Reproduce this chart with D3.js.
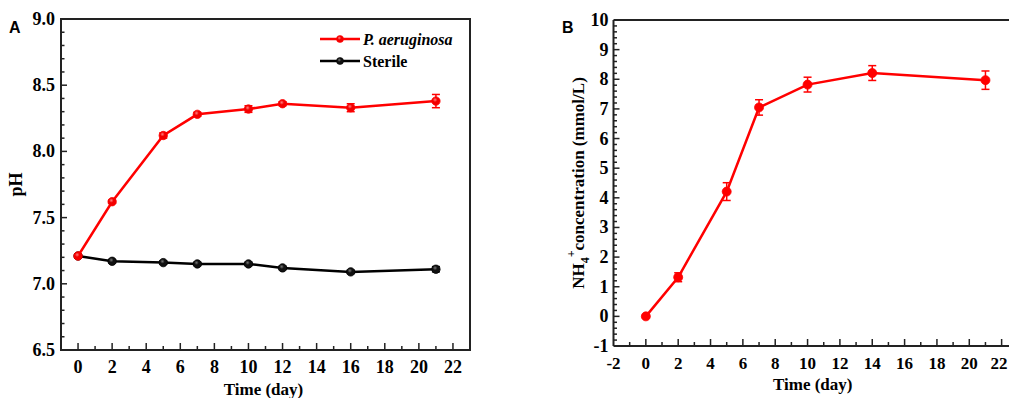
<!DOCTYPE html>
<html>
<head>
<meta charset="utf-8">
<script src="https://cdn.jsdelivr.net/npm/d3@7"></script>
<style>
  html, body { margin: 0; padding: 0; background: #fff; }
  svg { display: block; }
  text { font-family: "Liberation Serif", "Times New Roman", serif; font-weight: bold; }
</style>
</head>
<body>
<svg id="chart" width="1009" height="398"></svg>
<script>
// ---- Panel A: pH over time ----
const daysA = [0, 2, 5, 7, 10, 12, 16, 21];
const phAeruginosa = [7.21, 7.62, 8.12, 8.28, 8.32, 8.36, 8.33, 8.38];
const phAeruginosaErr = [0.012, 0.012, 0.02, 0.015, 0.025, 0.015, 0.03, 0.05];
const phSterile = [7.21, 7.17, 7.16, 7.15, 7.15, 7.12, 7.09, 7.11];
const phSterileErr = [0.015, 0.012, 0.012, 0.012, 0.012, 0.012, 0.012, 0.02];
const seriesNamesA = ["P. aeruginosa", "Sterile"];
const xTicksA = [0, 2, 4, 6, 8, 10, 12, 14, 16, 18, 20, 22];
const yTicksA = [6.5, 7.0, 7.5, 8.0, 8.5, 9.0];

// ---- Panel B: NH4+ concentration over time ----
const daysB = [0, 2, 5, 7, 10, 14, 21];
const nh4 = [0.0, 1.32, 4.21, 7.05, 7.82, 8.21, 7.97];
const nh4Err = [0.05, 0.15, 0.3, 0.26, 0.25, 0.25, 0.31];
const xTicksB = [-2, 0, 2, 4, 6, 8, 10, 12, 14, 16, 18, 20, 22];
const yTicksB = [-1, 0, 1, 2, 3, 4, 5, 6, 7, 8, 9, 10];

const svg = d3.select("#chart");
const RED = "#ff0000";

// sphere-like marker fills
const defs = svg.append("defs");
function sphere(id, base, hi) {
  const g = defs.append("radialGradient").attr("id", id)
    .attr("cx", "40%").attr("cy", "35%").attr("r", "60%");
  g.append("stop").attr("offset", "0%").attr("stop-color", hi);
  g.append("stop").attr("offset", "45%").attr("stop-color", base);
  g.append("stop").attr("offset", "100%").attr("stop-color", base);
}
sphere("ballRed", "#f20000", "#ff8080");
sphere("ballBlack", "#111", "#777");

const fontTick = 18;

function drawSeries(g, x, y, xs, ys, errs, color, fill, r) {
  const line = d3.line().x((d, i) => x(xs[i])).y(d => y(d));
  g.append("path").datum(ys).attr("d", line)
    .attr("fill", "none").attr("stroke", color).attr("stroke-width", 2.5);
  const eb = g.append("g").attr("stroke", color).attr("stroke-width", 1.5);
  ys.forEach((v, i) => {
    const cx = x(xs[i]), y1 = y(v + errs[i]), y2 = y(v - errs[i]);
    eb.append("line").attr("x1", cx).attr("x2", cx).attr("y1", y1).attr("y2", y2);
    eb.append("line").attr("x1", cx - 4).attr("x2", cx + 4).attr("y1", y1).attr("y2", y1);
    eb.append("line").attr("x1", cx - 4).attr("x2", cx + 4).attr("y1", y2).attr("y2", y2);
  });
  g.append("g").selectAll("circle").data(ys).join("circle")
    .attr("cx", (d, i) => x(xs[i])).attr("cy", d => y(d)).attr("r", r)
    .attr("fill", fill).attr("stroke", color).attr("stroke-width", 0.8);
}

// inward ticks (major + minor) along an axis
function ticksIn(g, scale, values, orient, pos, len) {
  values.forEach(v => {
    const p = scale(v);
    if (orient === "bottom") {
      g.append("line").attr("x1", p).attr("x2", p).attr("y1", pos).attr("y2", pos - len);
    } else {
      g.append("line").attr("y1", p).attr("y2", p).attr("x1", pos).attr("x2", pos + len);
    }
  });
}

// ================= Panel A =================
{
  const L = 61, R = 470, T = 19, B = 350;
  const x = d3.scaleLinear().domain([-1, 23]).range([L, R]);
  const y = d3.scaleLinear().domain([6.5, 9.0]).range([B, T]);
  const g = svg.append("g");

  // frame
  g.append("rect").attr("x", L).attr("y", T).attr("width", R - L).attr("height", B - T)
    .attr("fill", "none").attr("stroke", "#222").attr("stroke-width", 2);

  const tk = g.append("g").attr("stroke", "#222").attr("stroke-width", 1.5);
  ticksIn(tk, x, xTicksA, "bottom", B, 7);
  ticksIn(tk, x, d3.range(1, 23, 2), "bottom", B, 4);
  ticksIn(tk, y, yTicksA.slice(1, -1), "left", L, 6);
  ticksIn(tk, y, d3.range(6.6, 9.0, 0.1).filter(v => Math.abs(v * 2 - Math.round(v * 2)) > 0.01), "left", L, 3.5);

  g.append("g").selectAll("text").data(xTicksA).join("text")
    .attr("x", d => x(d)).attr("y", B + 23).attr("text-anchor", "middle")
    .attr("font-size", fontTick).text(d => d);
  g.append("g").selectAll("text").data(yTicksA).join("text")
    .attr("x", L - 6).attr("y", d => y(d) + 6).attr("text-anchor", "end")
    .attr("font-size", fontTick).text(d => d.toFixed(1));

  g.append("text").attr("x", (x(0) + x(22)) / 2 - 2).attr("y", 395).attr("text-anchor", "middle")
    .attr("font-size", 17).text("Time (day)");
  g.append("text").attr("transform", `translate(22,${y(7.75)}) rotate(-90)`)
    .attr("text-anchor", "middle").attr("font-size", 18).text("pH");

  drawSeries(g, x, y, daysA, phSterile, phSterileErr, "#000", "url(#ballBlack)", 4.2);
  drawSeries(g, x, y, daysA, phAeruginosa, phAeruginosaErr, RED, "url(#ballRed)", 4.2);

  // legend
  const lg = g.append("g");
  const entries = [
    { name: seriesNamesA[0], color: RED, fill: "url(#ballRed)", italic: true, yy: 39 },
    { name: seriesNamesA[1], color: "#000", fill: "url(#ballBlack)", italic: false, yy: 61 }
  ];
  entries.forEach(e => {
    lg.append("line").attr("x1", 320).attr("x2", 360).attr("y1", e.yy).attr("y2", e.yy)
      .attr("stroke", e.color).attr("stroke-width", 2.5);
    lg.append("circle").attr("cx", 340).attr("cy", e.yy).attr("r", 3.5)
      .attr("fill", e.fill).attr("stroke", e.color).attr("stroke-width", 0.6);
    lg.append("text").attr("x", 363).attr("y", e.yy + 5.5).attr("font-size", 16)
      .attr("font-style", e.italic ? "italic" : "normal").text(e.name);
  });

  svg.append("text").attr("x", 9).attr("y", 33)
    .style("font-family", "'Liberation Sans', Arial, sans-serif")
    .attr("font-size", 16).text("A");
}

// ================= Panel B =================
{
  const L = 613.5, T = 20, B = 346;
  const x = d3.scaleLinear().domain([-2, 23]).range([L, 1017.8]);
  const y = d3.scaleLinear().domain([-1, 10]).range([B, T]);
  const g = svg.append("g");

  g.append("line").attr("x1", L).attr("x2", 1009).attr("y1", T).attr("y2", T)
    .attr("stroke", "#222").attr("stroke-width", 2);
  g.append("line").attr("x1", L).attr("x2", 1009).attr("y1", B).attr("y2", B)
    .attr("stroke", "#222").attr("stroke-width", 2);
  g.append("line").attr("x1", L).attr("x2", L).attr("y1", T).attr("y2", B)
    .attr("stroke", "#222").attr("stroke-width", 2);

  const tk = g.append("g").attr("stroke", "#222").attr("stroke-width", 1.5);
  ticksIn(tk, x, xTicksB.slice(1), "bottom", B, 7);
  ticksIn(tk, x, d3.range(-1, 24, 2), "bottom", B, 4);
  ticksIn(tk, y, yTicksB.slice(1, -1), "left", L, 6);
  const minorB = d3.range(-1, 10.01, 0.2).filter(v => Math.abs(v - Math.round(v)) > 0.01);
  ticksIn(tk, y, minorB, "left", L, 3.5);

  g.append("g").selectAll("text").data(xTicksB).join("text")
    .attr("x", d => Math.min(x(d), 999)).attr("y", B + 23).attr("text-anchor", "middle")
    .attr("font-size", 17).text(d => d);
  g.append("g").selectAll("text").data(yTicksB).join("text")
    .attr("x", L - 5).attr("y", d => y(d) + 6).attr("text-anchor", "end")
    .attr("font-size", fontTick).text(d => d);

  g.append("text").attr("x", (x(0) + x(22)) / 2 - 11).attr("y", 390).attr("text-anchor", "middle")
    .attr("font-size", 17).text("Time (day)");

  const yl = g.append("text").attr("transform", `translate(584,${183}) rotate(-90)`)
    .attr("text-anchor", "middle").attr("font-size", 17);
  yl.append("tspan").text("NH");
  yl.append("tspan").attr("font-size", 12).attr("dy", 5).text("4");
  yl.append("tspan").attr("font-size", 12).attr("dy", -14).text("+");
  yl.append("tspan").attr("dy", 9).text("concentration (mmol/L)");

  drawSeries(g, x, y, daysB, nh4, nh4Err, RED, RED, 4.5);

  svg.append("text").attr("x", 562).attr("y", 33)
    .style("font-family", "'Liberation Sans', Arial, sans-serif")
    .attr("font-size", 16).text("B");
}
</script>
</body>
</html>
